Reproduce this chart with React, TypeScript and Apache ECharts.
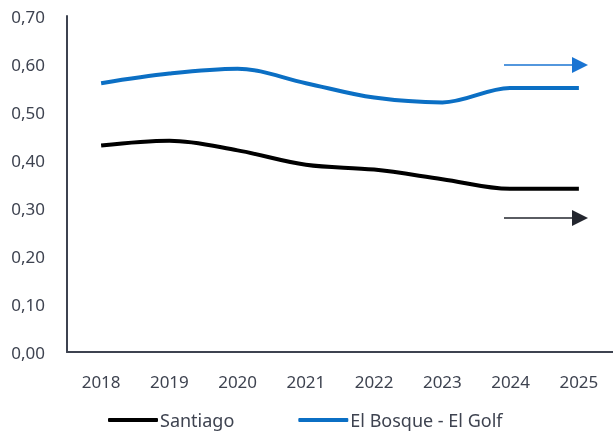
import React, { useEffect, useRef } from "react";
import * as echarts from "echarts";

const years = ["2018", "2019", "2020", "2021", "2022", "2023", "2024", "2025"];
const santiago = [0.43, 0.44, 0.42, 0.39, 0.38, 0.36, 0.34, 0.34];
const elBosque = [0.56, 0.58, 0.59, 0.56, 0.53, 0.52, 0.55, 0.55];
const seriesNames = ["Santiago", "El Bosque - El Golf"];

const BLUE = "#0b6fc4";
const BLACK = "#000000";
const GREY = "#3e4350";
const FONT = "Noto Sans";

export default function App() {
  const ref = useRef<HTMLDivElement>(null);
  useEffect(() => {
    const chart = echarts.init(ref.current!, null, { renderer: "svg" });
    const arrow = (y: number, color: string) => ({
      type: "group",
      children: [
        { type: "line", shape: { x1: 504, y1: y, x2: 575, y2: y }, style: { stroke: color, lineWidth: 1.6 } },
        { type: "polygon", shape: { points: [[572, y - 8], [588, y], [572, y + 8]] }, style: { fill: color } },
      ],
    });
    chart.setOption({
      animation: false,
      textStyle: { fontFamily: FONT },
      grid: { left: 67, top: 16, width: 555, height: 336, containLabel: false },
      xAxis: {
        type: "category",
        data: years,
        boundaryGap: true,
        axisLine: { lineStyle: { color: GREY, width: 2 } },
        axisTick: { show: false },
        axisLabel: { color: GREY, fontSize: 17, margin: 21, fontFamily: FONT },
      },
      yAxis: {
        type: "value",
        min: 0,
        max: 0.7,
        interval: 0.1,
        splitLine: { show: false },
        axisLine: { show: true, lineStyle: { color: GREY, width: 2 } },
        axisTick: { show: false },
        axisLabel: {
          color: GREY,
          fontSize: 17,
          margin: 22,
          fontFamily: FONT,
          formatter: (v: number) => v.toFixed(2).replace(".", ","),
        },
      },
      legend: {
        bottom: 0,
        left: 103,
        itemWidth: 50,
        itemHeight: 4,
        itemGap: 64,
        icon: "roundRect",
        textStyle: { color: GREY, fontSize: 18, fontFamily: FONT, padding: [0, 0, 0, -3] },
        data: seriesNames,
      },
      series: [
        {
          name: seriesNames[0],
          type: "line",
          data: santiago,
          smooth: 0.35,
          symbol: "none",
          lineStyle: { color: BLACK, width: 4 },
          itemStyle: { color: BLACK },
        },
        {
          name: seriesNames[1],
          type: "line",
          data: elBosque,
          smooth: 0.35,
          symbol: "none",
          lineStyle: { color: BLUE, width: 4 },
          itemStyle: { color: BLUE },
        },
      ],
      graphic: [arrow(65, "#1a74d2"), arrow(218, "#23262e")],
    });
    return () => chart.dispose();
  }, []);
  return <div ref={ref} style={{ position: "fixed", left: 0, top: 0, width: 613, height: 434 }} />;
}
